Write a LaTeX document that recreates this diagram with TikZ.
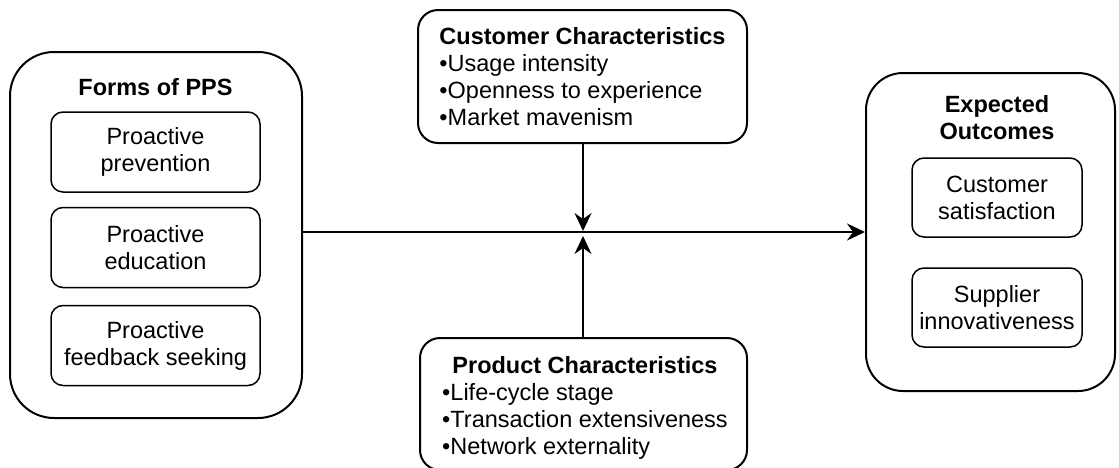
\documentclass[tikz,border=0pt]{standalone}
\usepackage{fontspec}
\setmainfont{Liberation Sans}
\usetikzlibrary{arrows.meta}
\begin{document}
\begin{tikzpicture}[x=0.5pt,y=-0.5pt,
  every node/.style={font=\fontsize{11.75}{13.5}\selectfont, inner sep=0pt},
  outerbox/.style={draw, line width=1pt, rounded corners=#1},
  innerbox/.style={draw, line width=0.75pt, rounded corners=6pt, align=center},
  conn/.style={line width=0.9pt, -{Stealth[length=9pt,width=8.5pt,inset=3pt]}}
]
\useasboundingbox (0,0) rectangle (1119,467);
% left group
\node[outerbox=22pt, minimum width=146pt, minimum height=183pt] (forms) at (156,235) {};
\node[font=\fontsize{11.75}{13.5}\selectfont\bfseries] (formsT) at (155.5,87) {Forms of PPS};
\node[innerbox, minimum width=104.5pt, minimum height=40pt] (prev) at (155.5,152) {Proactive\\prevention};
\node[innerbox, minimum width=104.5pt, minimum height=40pt] (edu) at (155.5,247.5) {Proactive\\education};
\node[innerbox, minimum width=104.5pt, minimum height=40pt] (feed) at (155.5,345.5) {Proactive\\feedback seeking};
% right group
\node[outerbox=18.5pt, minimum width=124.5pt, minimum height=159pt] (outc) at (990.5,232) {};
\node[font=\fontsize{11.75}{13.5}\selectfont\bfseries, align=center] (outcT) at (997,118) {Expected\\Outcomes};
\node[innerbox, minimum width=85pt, minimum height=39.5pt] (sat) at (997,197.5) {Customer\\satisfaction};
\node[innerbox, minimum width=85pt, minimum height=39.5pt] (inno) at (997,307.5) {Supplier\\innovativeness};
% moderators
\node[outerbox=10pt, minimum width=164.5pt, minimum height=66.5pt] (cust) at (582.5,76.5) {};
\node (custT) at (582.5,80) {\begin{tabular}{@{}l@{}}\multicolumn{1}{@{}c@{}}{\bfseries Customer Characteristics}\\
•Usage intensity\\ •Openness to experience\\ •Market mavenism\end{tabular}};
\node[outerbox=10pt, minimum width=163.5pt, minimum height=66pt] (prod) at (583.5,404) {};
\node (prodT) at (585,409) {\begin{tabular}{@{}l@{}}\multicolumn{1}{@{}c@{}}{\bfseries Product Characteristics}\\
•Life-cycle stage\\ •Transaction extensiveness\\ •Network externality\end{tabular}};
% connectors
\coordinate (jt) at (583,231);
\coordinate (jb) at (583,236);
\draw[conn] (forms.east |- outc.west) -- (outc.west);
\draw[conn] (cust.south -| jt) -- (jt);
\draw[conn] (prod.north -| jb) -- (jb);
\end{tikzpicture}
\end{document}
